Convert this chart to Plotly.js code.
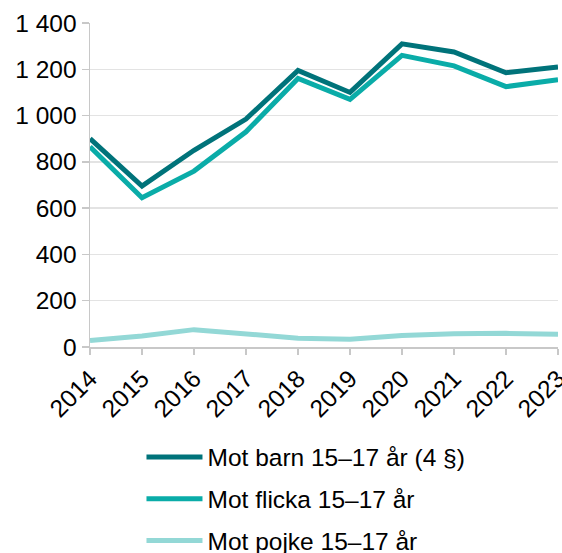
<!DOCTYPE html>
<html><head><meta charset="utf-8">
<script src="https://cdn.plot.ly/plotly-3.0.1.min.js"></script>
<style>html,body{margin:0;padding:0;background:#fff}#chart{width:562px;height:553px}</style>
</head><body><div id="chart"></div>
<script>
const years = [2014, 2015, 2016, 2017, 2018, 2019, 2020, 2021, 2022, 2023];
const barn = [900, 695, 850, 985, 1195, 1100, 1310, 1275, 1185, 1210];
const flicka = [865, 645, 760, 930, 1160, 1070, 1260, 1215, 1125, 1155];
const pojke = [28, 48, 75, 55, 38, 33, 50, 57, 59, 55];
const names = ['Mot barn 15–17 år (4 §)', 'Mot flicka 15–17 år', 'Mot pojke 15–17 år'];
const yTicks = [0, 200, 400, 600, 800, 1000, 1200, 1400];
const yTickText = ['0', '200', '400', '600', '800', '1 000', '1 200', '1 400'];
const colors = ['#00737a', '#0aaca8', '#93d8d6'];
const series = [barn, flicka, pojke];
const traces = series.map((s, i) => ({
  x: years, y: s, type: 'scatter', mode: 'lines', name: names[i],
  legendgroup: 'g' + i,
  line: {color: colors[i], width: 5}
}));
const layout = {
  width: 562, height: 553,
  margin: {l: 90, r: 4, t: 23, b: 206, autoexpand: false},
  paper_bgcolor: '#fff', plot_bgcolor: '#fff',
  font: {family: 'Liberation Sans, Arial, sans-serif', color: '#000', size: 24.5},
  showlegend: true,
  legend: {x: 0.11, y: -0.27, xanchor: 'left', yanchor: 'top', font: {size: 24.5}, itemwidth: 56, tracegroupgap: 7, bgcolor: 'rgba(0,0,0,0)'},
  xaxis: {range: [2014, 2023], tickvals: years, ticktext: years.map(String), tickangle: -45,
    ticklabeloverflow: 'allow',
    showgrid: false, zeroline: false, showline: true, linecolor: '#c8c8c8', linewidth: 1.5,
    ticks: 'outside', ticklen: 6, tickcolor: '#c8c8c8', tickwidth: 1.5, fixedrange: true},
  yaxis: {range: [0, 1400], tickvals: yTicks, ticktext: yTickText,
    showgrid: true, gridcolor: '#e3e3e3', gridwidth: 1.5, zeroline: false, showline: true,
    linecolor: '#c8c8c8', linewidth: 1.5, ticks: 'outside', ticklen: 7, tickcolor: '#c8c8c8', tickwidth: 1.5, fixedrange: true}
};
Plotly.newPlot('chart', traces, layout, {displayModeBar: false, staticPlot: true});
</script></body></html>
